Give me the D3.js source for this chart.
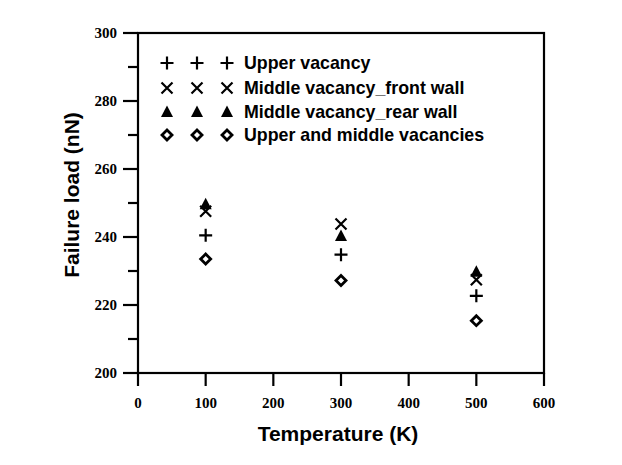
<!DOCTYPE html>
<html>
<head>
<meta charset="utf-8">
<script src="https://cdn.jsdelivr.net/npm/d3@7"></script>
<style>
  body { margin: 0; background: #fff; }
  .tick-label { font-family: "Liberation Serif", "Times New Roman", serif; font-weight: bold; font-size: 15px; }
  .axis-title { font-family: "Liberation Sans", Arial, sans-serif; font-weight: bold; font-size: 21px; }
  .legend-text { font-family: "Liberation Sans", Arial, sans-serif; font-weight: bold; font-size: 17.8px; }
</style>
</head>
<body>
<div class="chart-container"></div>
<script>
// temperatures (K)
const temps = [100, 300, 500];

// failure load (nN) per case
const upperVacancy = [240.5, 234.8, 222.7];
const middleFront = [247.6, 243.8, 227.4];
const middleRear = [249.6, 240.3, 229.8];
const upperMiddle = [233.5, 227.2, 215.4];

const seriesNames = ["Upper vacancy", "Middle vacancy_front wall", "Middle vacancy_rear wall", "Upper and middle vacancies"];
const seriesValues = [upperVacancy, middleFront, middleRear, upperMiddle];
const symbolKinds = ["plus", "cross", "triangle", "diamond"];

const xTicks = [0, 100, 200, 300, 400, 500, 600];
const yTicks = [200, 220, 240, 260, 280, 300];
const yMinor = [210, 230, 250, 270, 290];

const margin = {top: 33, right: 78, bottom: 92, left: 138},
    width = 622 - margin.left - margin.right,
    height = 465 - margin.top - margin.bottom;

const svg = d3.select(".chart-container").append("svg")
    .attr("width", 622)
    .attr("height", 465)
  .append("g")
    .attr("transform", "translate(" + margin.left + "," + margin.top + ")");

const x = d3.scaleLinear().domain([0, 600]).range([0, width]);
const y = d3.scaleLinear().domain([200, 300]).range([height, 0]);

// draw a marker centred at 0,0
function marker(g, kind) {
  if (kind === "plus") {
    g.append("path").attr("d", "M-6.5,0H6.5M0,-6.5V6.5")
      .attr("stroke", "#000").attr("stroke-width", 2.2).attr("fill", "none");
  } else if (kind === "cross") {
    g.append("path").attr("d", "M-5.5,-5.5L5.5,5.5M-5.5,5.5L5.5,-5.5")
      .attr("stroke", "#000").attr("stroke-width", 2.2).attr("fill", "none");
  } else if (kind === "triangle") {
    g.append("path").attr("d", "M0,-6.5L6,5H-6Z").attr("fill", "#000");
  } else {
    g.append("path").attr("d", "M0,-5L5,0L0,5L-5,0Z")
      .attr("stroke", "#000").attr("stroke-width", 2.8).attr("fill", "#fff");
  }
}

// frame
svg.append("rect")
    .attr("width", width).attr("height", height)
    .attr("fill", "none").attr("stroke", "#000").attr("stroke-width", 2.2);

// x axis
const xAxis = svg.append("g").attr("transform", "translate(0," + height + ")");
xAxis.selectAll("line").data(xTicks).enter().append("line")
    .attr("x1", (d) => x(d)).attr("x2", (d) => x(d))
    .attr("y1", 0).attr("y2", 13)
    .attr("stroke", "#000").attr("stroke-width", 2.2);
xAxis.selectAll("text").data(xTicks).enter().append("text")
    .attr("class", "tick-label")
    .attr("x", (d) => x(d)).attr("y", 35)
    .attr("text-anchor", "middle")
    .text((d) => d);

// y axis
const yAxis = svg.append("g");
yAxis.selectAll(".major").data(yTicks).enter().append("line")
    .attr("x1", -15).attr("x2", 0)
    .attr("y1", (d) => y(d)).attr("y2", (d) => y(d))
    .attr("stroke", "#000").attr("stroke-width", 2.2);
yAxis.selectAll(".minor").data(yMinor).enter().append("line")
    .attr("x1", -10).attr("x2", 0)
    .attr("y1", (d) => y(d)).attr("y2", (d) => y(d))
    .attr("stroke", "#000").attr("stroke-width", 2.2);
yAxis.selectAll("text").data(yTicks).enter().append("text")
    .attr("class", "tick-label")
    .attr("x", -21).attr("y", (d) => y(d) + 5)
    .attr("text-anchor", "end")
    .text((d) => d);

// axis titles
svg.append("text")
    .attr("class", "axis-title")
    .attr("x", width / 2 - 3).attr("y", height + 68)
    .attr("text-anchor", "middle")
    .text("Temperature (K)");

svg.append("text")
    .attr("class", "axis-title")
    .attr("transform", "rotate(-90)")
    .attr("x", -height / 2 + 8).attr("y", -59)
    .attr("text-anchor", "middle")
    .text("Failure load (nN)");

// points
seriesValues.forEach((vals, s) => {
  vals.forEach((v, i) => {
    const g = svg.append("g")
        .attr("transform", "translate(" + x(temps[i]) + "," + y(v) + ")");
    marker(g, symbolKinds[s]);
  });
});

// legend
const legendRows = [30, 55, 79, 102];
seriesNames.forEach((name, s) => {
  [29, 59, 89].forEach((lx) => {
    const g = svg.append("g")
        .attr("transform", "translate(" + lx + "," + legendRows[s] + ")");
    marker(g, symbolKinds[s]);
  });
  svg.append("text")
      .attr("class", "legend-text")
      .attr("x", 106).attr("y", legendRows[s] + 6)
      .text(name);
});
</script>
</body>
</html>
